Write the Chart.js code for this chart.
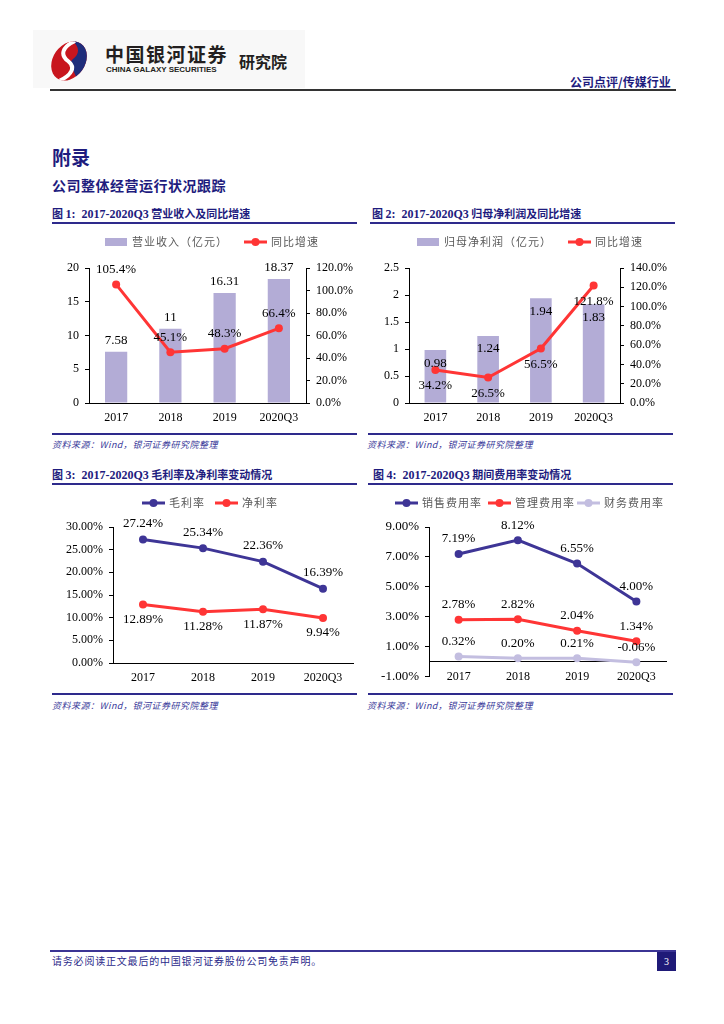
<!DOCTYPE html>
<html>
<head>
<meta charset="utf-8">
<script src="https://cdn.jsdelivr.net/npm/chart.js@4.4.0/dist/chart.umd.min.js"></script>
<style>
  body { margin: 0; width: 724px; height: 1024px; position: relative; background: #fff; overflow: hidden;
         font-family: "Noto Sans CJK SC", sans-serif; }
  .abs { position: absolute; }
  .t { position: absolute; white-space: nowrap; height: 20px; line-height: 20px; }
  .navy { color: #1e1c7e; }
  .rule { position: absolute; height: 2px; background: #2e2a8c; }
  .box { position: absolute; }
  .src { font-size: 9px; font-style: italic; color: #3a3a9a; letter-spacing: 0.5px; }
  .fig { font-size: 11px; font-weight: bold; color: #1e1c7e; }
  .fig b { font-family: "Liberation Serif", serif; font-size: 12px; }
</style>
</head>
<body>

<!-- header -->
<div class="abs" style="left:33px;top:30px;width:272px;height:58px;background:#f8f8f8"></div>
<svg class="abs" style="left:48px;top:39px" width="42" height="44" viewBox="0 0 42 44">
  <defs><clipPath id="lg"><ellipse cx="21" cy="22" rx="16" ry="21" transform="rotate(35 21 22)"/></clipPath></defs>
  <g clip-path="url(#lg)">
    <rect width="42" height="44" fill="#c8161e"/>
    <path d="M22 0 C31 6 33 14 25 20 C19 25 27 31 30 44 L42 44 L42 0 Z" fill="#1f2d7b"/>
    <path d="M27 2 C14 8 12 16 20 22 C28 28 24 36 11 42" stroke="#fff" stroke-width="4" fill="none"/>
  </g>
</svg>
<div class="t" style="left:105px;top:44px;font-size:19px;font-weight:bold;letter-spacing:1.5px;color:#231f20">中国银河证券</div>
<div class="t" style="left:106px;top:60px;font-family:'Liberation Sans',sans-serif;font-size:8px;font-weight:bold;color:#231f20">CHINA GALAXY SECURITIES</div>
<div class="t" style="left:239px;top:51px;font-size:16px;font-weight:bold;color:#231f20">研究院</div>
<div class="t navy" style="left:570px;top:72px;font-size:12px;font-weight:bold">公司点评/传媒行业</div>
<div class="abs" style="left:50px;top:89px;width:626px;height:2px;background:#333"></div>

<div class="t navy" style="left:52px;top:147px;font-size:19px;font-weight:bold">附录</div>
<div class="t navy" style="left:52px;top:175px;font-size:14px;font-weight:bold;letter-spacing:0.5px">公司整体经营运行状况跟踪</div>

<!-- figure titles and rules -->
<div class="t fig" style="left:52px;top:203px">图 <b>1:&nbsp; 2017-2020Q3</b> 营业收入及同比增速</div>
<div class="rule" style="left:52px;top:222px;width:305px"></div>
<div class="t fig" style="left:372px;top:203px">图 <b>2:&nbsp; 2017-2020Q3</b> 归母净利润及同比增速</div>
<div class="rule" style="left:370px;top:222px;width:305px"></div>

<div class="rule" style="left:52px;top:433px;width:305px"></div>
<div class="t src" style="left:52px;top:435px">资料来源：Wind，银河证券研究院整理</div>
<div class="rule" style="left:368px;top:433px;width:305px"></div>
<div class="t src" style="left:367px;top:435px">资料来源：Wind，银河证券研究院整理</div>

<div class="t fig" style="left:52px;top:464px">图 <b>3:&nbsp; 2017-2020Q3</b> 毛利率及净利率变动情况</div>
<div class="rule" style="left:52px;top:483px;width:305px"></div>
<div class="t fig" style="left:373px;top:464px">图 <b>4:&nbsp; 2017-2020Q3</b> 期间费用率变动情况</div>
<div class="rule" style="left:368px;top:483px;width:305px"></div>

<div class="rule" style="left:52px;top:693px;width:305px"></div>
<div class="t src" style="left:52px;top:696px">资料来源：Wind，银河证券研究院整理</div>
<div class="rule" style="left:368px;top:693px;width:305px"></div>
<div class="t src" style="left:367px;top:696px">资料来源：Wind，银河证券研究院整理</div>

<!-- chart canvases -->
<div class="box" style="left:52px;top:230px;width:305px;height:195px"><canvas id="revenue_chart"></canvas></div>
<div class="box" style="left:372px;top:230px;width:305px;height:195px"><canvas id="profit_chart"></canvas></div>
<div class="box" style="left:52px;top:490px;width:305px;height:200px"><canvas id="margin_chart"></canvas></div>
<div class="box" style="left:372px;top:490px;width:305px;height:200px"><canvas id="expense_chart"></canvas></div>

<!-- footer -->
<div class="abs" style="left:50px;top:950px;width:626px;height:2px;background:#3b3494"></div>
<div class="t" style="left:52px;top:951px;font-size:10px;letter-spacing:0.8px;color:#2b2a8a">请务必阅读正文最后的中国银河证券股份公司免责声明。</div>
<div class="abs" style="left:657px;top:952px;width:19px;height:19px;background:#1f1a78;color:#fff;font:10px 'Liberation Serif',serif;line-height:19px;text-align:center">3</div>

<script>
// categories shared by all four figures
const years = ['2017', '2018', '2019', '2020Q3'];

// fig 1: revenue (100m yuan) and yoy growth (%)
const revenue = [7.58, 11, 16.31, 18.37];
const revenueYoy = [105.4, 45.1, 48.3, 66.4];
const revenueTicks = [0, 5, 10, 15, 20];
const revenueYoyTicks = [0, 20, 40, 60, 80, 100, 120];

// fig 2: net profit attributable to parent (100m yuan) and yoy growth (%)
const netProfit = [0.98, 1.24, 1.94, 1.83];
const netProfitYoy = [34.2, 26.5, 56.5, 121.8];
const netProfitTicks = [0, 0.5, 1, 1.5, 2, 2.5];
const netProfitYoyTicks = [0, 20, 40, 60, 80, 100, 120, 140];

// fig 3: gross / net margin (%)
const grossMargin = [27.24, 25.34, 22.36, 16.39];
const netMargin = [12.89, 11.28, 11.87, 9.94];
const marginTicks = [0, 5, 10, 15, 20, 25, 30];

// fig 4: selling / admin / finance expense ratio (%)
const sellingRate = [7.19, 8.12, 6.55, 4.00];
const adminRate = [2.78, 2.82, 2.04, 1.34];
const financeRate = [0.32, 0.20, 0.21, -0.06];
const expenseTicks = [-1, 1, 3, 5, 7, 9];

const BAR = '#b3acd6';
const RED = '#ff3535';
const BLUE = '#3e3596';
const LILAC = '#c3bee0';
const INK = '#000';

Chart.defaults.font.family = '"Liberation Serif", serif';
Chart.defaults.font.size = 12;
Chart.defaults.color = INK;
Chart.defaults.animation = false;

// value labels drawn next to every bar / point, offset set per dataset
const valueLabels = {
    id: 'valueLabels',
    afterDatasetsDraw(chart) {
        const ctx = chart.ctx;
        ctx.save();
        ctx.font = '13px "Liberation Serif"';
        ctx.fillStyle = INK;
        ctx.textAlign = 'center';
        ctx.textBaseline = 'middle';
        chart.data.datasets.forEach((ds, i) => {
            if (!ds.labelFmt) return;
            chart.getDatasetMeta(i).data.forEach((el, j) => {
                ctx.fillText(ds.labelFmt(ds.data[j]), el.x, el.y + ds.labelShift);
            });
        });
        ctx.restore();
    }
};

// excel-like legend: bar swatch or line with dot, spaced grey text
const pageLegend = {
    id: 'pageLegend',
    afterDraw(chart, args, opts) {
        const ctx = chart.ctx;
        ctx.save();
        ctx.textBaseline = 'middle';
        ctx.font = '11px "Noto Sans CJK SC"';
        ctx.letterSpacing = '1px';
        chart.data.datasets.forEach((ds, i) => {
            const x = opts.xs[i], y = opts.y;
            const col = ds.type === 'bar' ? ds.backgroundColor : ds.borderColor;
            if (ds.type === 'bar') {
                ctx.fillStyle = col;
                ctx.fillRect(x, y - 4, 22, 8);
            } else {
                ctx.strokeStyle = col;
                ctx.lineWidth = 3;
                ctx.beginPath();
                ctx.moveTo(x, y);
                ctx.lineTo(x + 23, y);
                ctx.stroke();
                ctx.fillStyle = col;
                ctx.beginPath();
                ctx.arc(x + 11.5, y, 4, 0, Math.PI * 2);
                ctx.fill();
            }
            ctx.fillStyle = '#595959';
            ctx.fillText(ds.label, x + 27, y);
        });
        ctx.restore();
    }
};

function fixedTicks(arr) {
    return s => { s.ticks = arr.map(v => ({ value: v })); };
}

function yAxis(arr, pos, width, fmt, size) {
    return {
        position: pos,
        min: arr[0],
        max: arr[arr.length - 1],
        afterBuildTicks: fixedTicks(arr),
        afterFit: s => { s.width = width; },
        grid: { display: true, drawOnChartArea: false, tickLength: 4, color: INK },
        border: { display: true, color: INK },
        ticks: { padding: 6, font: { size: size || 12 }, callback: fmt }
    };
}

function xAxis(height) {
    return {
        offset: true,
        afterFit: s => { s.height = height; },
        grid: { display: true, drawOnChartArea: false, drawTicks: false },
        border: { display: true, color: INK },
        ticks: { padding: 8, font: { size: 12 } }
    };
}

function lineSet(label, data, color, shift, axis) {
    return {
        type: 'line',
        label: label,
        data: data,
        yAxisID: axis || 'y',
        borderColor: color,
        backgroundColor: color,
        borderWidth: 3,
        pointRadius: 4,
        pointBorderWidth: 0,
        pointBackgroundColor: color,
        tension: 0,
        order: 0,
        labelShift: shift,
        labelFmt: v => v.toFixed(2) + '%'
    };
}

function barSet(label, data, shift, fmt) {
    return {
        type: 'bar',
        label: label,
        data: data,
        yAxisID: 'y',
        backgroundColor: BAR,
        barPercentage: 0.5,
        categoryPercentage: 0.82,
        order: 1,
        labelShift: shift,
        labelFmt: fmt
    };
}

const pct1 = v => v.toFixed(1) + '%';
const pct2 = v => v.toFixed(2) + '%';

// fig 1
const revYoySet = lineSet('同比增速', revenueYoy, RED, -15, 'y1');
revYoySet.labelFmt = pct1;
new Chart(document.getElementById('revenue_chart').getContext('2d'), {
    type: 'bar',
    data: {
        labels: years,
        datasets: [barSet('营业收入（亿元）', revenue, -11, v => String(v)), revYoySet]
    },
    options: {
        responsive: true,
        maintainAspectRatio: false,
        layout: { padding: { top: 38, left: 0, right: 0, bottom: 0 } },
        plugins: { legend: { display: false }, tooltip: { enabled: false }, pageLegend: { xs: [53, 192], y: 12 } },
        scales: {
            x: xAxis(22),
            y: yAxis(revenueTicks, 'left', 37, v => String(v)),
            y1: yAxis(revenueYoyTicks, 'right', 51, pct1)
        }
    },
    plugins: [valueLabels, pageLegend]
});

// fig 2
const npYoySet = lineSet('同比增速', netProfitYoy, RED, 16, 'y1');
npYoySet.labelFmt = pct1;
new Chart(document.getElementById('profit_chart').getContext('2d'), {
    type: 'bar',
    data: {
        labels: years,
        datasets: [barSet('归母净利润（亿元）', netProfit, 13, v => v.toFixed(2)), npYoySet]
    },
    options: {
        responsive: true,
        maintainAspectRatio: false,
        layout: { padding: { top: 38, left: 0, right: 0, bottom: 0 } },
        plugins: { legend: { display: false }, tooltip: { enabled: false }, pageLegend: { xs: [45, 196], y: 12 } },
        scales: {
            x: xAxis(22),
            y: yAxis(netProfitTicks, 'left', 37, v => String(v)),
            y1: yAxis(netProfitYoyTicks, 'right', 57, pct1)
        }
    },
    plugins: [valueLabels, pageLegend]
});

// fig 3
new Chart(document.getElementById('margin_chart').getContext('2d'), {
    type: 'line',
    data: {
        labels: years,
        datasets: [
            lineSet('毛利率', grossMargin, BLUE, -16),
            lineSet('净利率', netMargin, RED, 15)
        ]
    },
    options: {
        responsive: true,
        maintainAspectRatio: false,
        layout: { padding: { top: 37, left: 0, right: 4, bottom: 0 } },
        plugins: { legend: { display: false }, tooltip: { enabled: false }, pageLegend: { xs: [90, 163], y: 13 } },
        scales: {
            x: xAxis(27),
            y: yAxis(marginTicks, 'left', 61, pct2)
        }
    },
    plugins: [valueLabels, pageLegend]
});

// fig 4: x axis sits on the 0% line, labels level with the -1% tick
const expX = xAxis(12);
expX.position = { y: 0 };
new Chart(document.getElementById('expense_chart').getContext('2d'), {
    type: 'line',
    data: {
        labels: years,
        datasets: [
            lineSet('销售费用率', sellingRate, BLUE, -15),
            lineSet('管理费用率', adminRate, RED, -15),
            lineSet('财务费用率', financeRate, LILAC, -15)
        ]
    },
    options: {
        responsive: true,
        maintainAspectRatio: false,
        layout: { padding: { top: 37, left: 0, right: 11, bottom: 0 } },
        plugins: { legend: { display: false }, tooltip: { enabled: false }, pageLegend: { xs: [23, 116, 205], y: 13 } },
        scales: {
            x: expX,
            y: yAxis(expenseTicks, 'left', 57, pct2, 13)
        }
    },
    plugins: [valueLabels, pageLegend]
});
</script>
</body>
</html>
